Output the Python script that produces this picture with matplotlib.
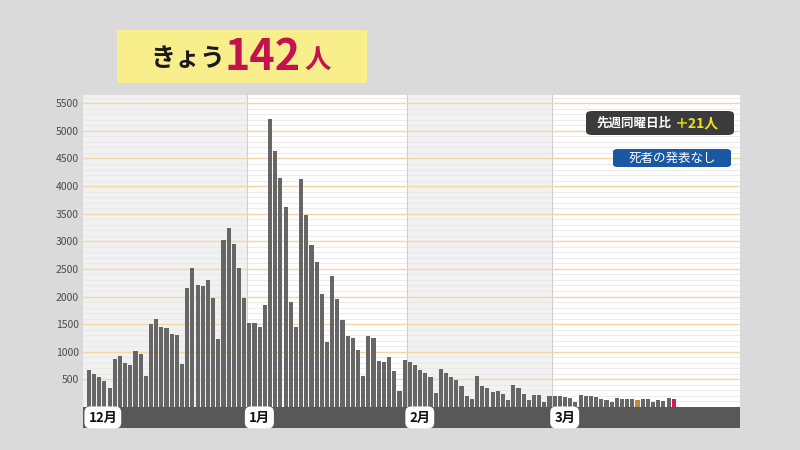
import matplotlib
matplotlib.use("Agg")
import matplotlib.pyplot as plt
from matplotlib.patches import FancyBboxPatch
import numpy as np

plt.rcParams['font.family'] = ['Noto Sans CJK JP', 'DejaVu Sans']

# ---- data (daily new cases, Dec 1 .. Mar 24) ----
dec = [670, 600, 548, 470, 343, 874, 929, 796, 760, 1020, 960, 555, 1497, 1587, 1454, 1424,
       1322, 1310, 772, 2155, 2517, 2215, 2185, 2306, 1968, 1237, 3024, 3247, 2957, 2517, 1968]
jan = [1527, 1520, 1454, 1840, 5217, 4643, 4154, 3617, 1900, 1454, 4124, 3478, 2940, 2620, 2052,
       1176, 2378, 1955, 1569, 1291, 1243, 1025, 560, 1280, 1243, 826, 808, 905, 657, 295, 850]
feb = [816, 756, 674, 620, 539, 258, 680, 620, 539, 493, 384, 197, 152, 560, 382, 336, 264, 291,
       228, 125, 396, 336, 228, 125, 212, 212, 83, 206]
mar = [205, 195, 175, 165, 90, 210, 195, 190, 175, 150, 130, 95, 155, 150, 145, 140, 121, 140,
       135, 80, 125, 100, 160, 142]
month_labels = ["12", "1", "2", "3"]
yticks = [500, 1000, 1500, 2000, 2500, 3000, 3500, 4000, 4500, 5000, 5500]
today_value = 142
diff_week = 21

values = dec + jan + feb + mar
n = len(values)
month_lengths = [len(dec), len(jan), len(feb), len(mar)]
month_starts = np.cumsum([0] + month_lengths[:-1])

colors = ['#666666'] * n
colors[-1] = '#d21f52'
colors[-8] = '#c08a35'

fig = plt.figure(figsize=(8, 4.5), dpi=100)
fig.patch.set_facecolor('#dadada')

ax = fig.add_axes([83 / 800, 1 - 428 / 450, (740 - 83) / 800, (428 - 95) / 450])
ax.set_facecolor('white')
xmin, xmax = -1.14, 125.8
ymin, ymax = -382, 5650
ax.set_xlim(xmin, xmax)
ax.set_ylim(ymin, ymax)

# month shading (Dec & Feb light gray)
bounds = [xmin] + [s - 0.5 for s in month_starts[1:]] + [xmax]
for k in range(4):
    if k % 2 == 0:
        ax.axvspan(bounds[k], bounds[k + 1], ymin=0, ymax=1, color='#f1f1f1', zorder=0, lw=0)
for b in bounds[1:-1]:
    ax.plot([b, b], [0, ymax], color='#cfcfcf', lw=0.8, zorder=1)

# grid lines
for v in range(100, 5700, 100):
    if v % 500 == 0:
        ax.axhline(v, color='#f2d6a8', lw=1.0, zorder=1)
    else:
        ax.axhline(v, color='#e8e8e8', lw=0.6, zorder=0.5)

x = np.arange(n)
ax.bar(x, values, width=0.8, color=colors, zorder=3)

# bottom band
ax.axhspan(ymin, 0, color='#585858', zorder=4, lw=0)
for s, lab in zip(month_starts, month_labels):
    ax.text(s - 0.1, ymin / 2, lab + "月", ha='left', va='center', fontsize=9.5,
            fontweight='bold', color='#111111', zorder=6,
            bbox=dict(boxstyle='round,pad=0.3,rounding_size=0.45', fc='white', ec='none'))

ax.set_yticks(yticks)
ax.set_yticklabels([str(v) for v in yticks], fontsize=7.5, color='#4a4a4a')
ax.tick_params(axis='y', length=0, pad=3)
ax.set_xticks([])
for sp in ax.spines.values():
    sp.set_visible(False)

# title box
fig.patches.append(FancyBboxPatch((117 / 800, 1 - 83 / 450), (367 - 117) / 800, (83 - 30) / 450,
                                  boxstyle='square,pad=0', fc='#f8ef8c', ec='none',
                                  transform=fig.transFigure, figure=fig))
fig.text(150 / 800, 1 - 59 / 450, "きょう", fontsize=18, fontweight='bold', color='#1a1a1a',
         ha='left', va='center')
fig.text(225 / 800, 1 - 57 / 450, str(today_value), fontsize=31, fontweight='bold',
         color='#c4124f', ha='left', va='center')
fig.text(304 / 800, 1 - 60 / 450, "人", fontsize=19, fontweight='bold', color='#c4124f',
         ha='left', va='center')

# right info boxes
fig.patches.append(FancyBboxPatch((586 / 800, 1 - 135 / 450), (734 - 586) / 800, (135 - 111) / 450,
                                  boxstyle='round,pad=0,rounding_size=0.008', fc='#3b3b3b',
                                  ec='none', transform=fig.transFigure, figure=fig))
fig.text(596 / 800, 1 - 123 / 450, "先週同曜日比", fontsize=9, fontweight='bold', color='white',
         ha='left', va='center')
fig.text(675 / 800, 1 - 123 / 450, "＋" + str(diff_week) + "人", fontsize=10, fontweight='bold',
         color='#f0e41a', ha='left', va='center')

fig.patches.append(FancyBboxPatch((613 / 800, 1 - 167 / 450), (731 - 613) / 800, (167 - 149) / 450,
                                  boxstyle='round,pad=0,rounding_size=0.006', fc='#1b58a4',
                                  ec='none', transform=fig.transFigure, figure=fig))
fig.text(672 / 800, 1 - 158 / 450, "死者の発表なし", fontsize=9, color='white',
         ha='center', va='center')

fig.savefig('out.png', dpi=100, facecolor=fig.get_facecolor())
